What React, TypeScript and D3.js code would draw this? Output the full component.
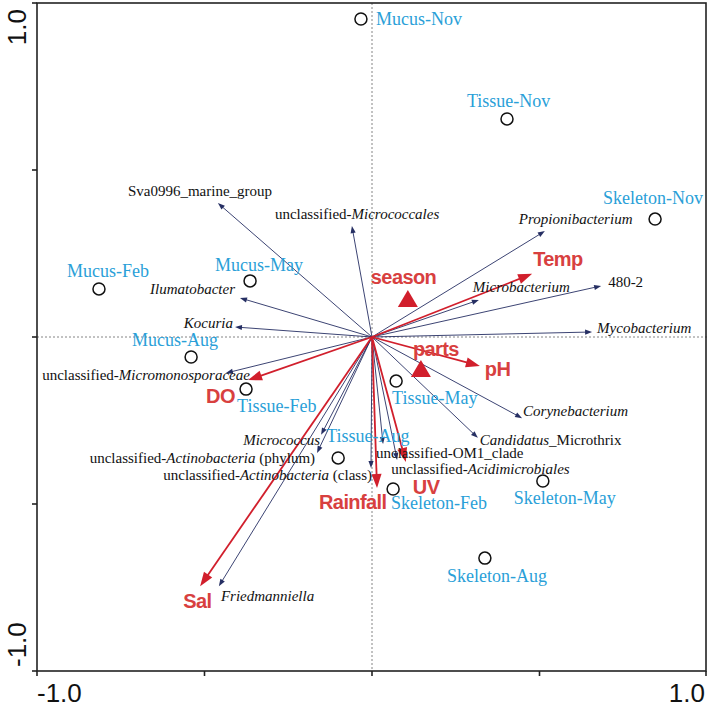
import React from "react";
import * as d3 from "d3";

// ---- data (CCA/RDA biplot scores) ----
const sampleNames = ["Mucus-Nov","Tissue-Nov","Skeleton-Nov","Mucus-Feb","Mucus-May","Mucus-Aug","Tissue-Feb","Tissue-May","Tissue-Aug","Skeleton-Feb","Skeleton-May","Skeleton-Aug"];
const sampleX = [-0.033, 0.403, 0.845, -0.815, -0.364, -0.540, -0.376, 0.072, -0.101, 0.063, 0.510, 0.337];
const sampleY = [0.952, 0.653, 0.353, 0.144, 0.168, -0.060, -0.156, -0.132, -0.362, -0.455, -0.431, -0.662];

const speciesNames = ["Sva0996_marine_group","unclassified-*Micrococcales*","*Ilumatobacter*","*Kocuria*","unclassified-*Micromonosporaceae*","*Propionibacterium*","*Microbacterium*","480-2","*Mycobacterium*","*Corynebacterium*","*Candidatus*_Microthrix","unclassified-OM1_clade","unclassified-*Acidimicrobiales*","*Micrococcus*","unclassified-*Actinobacteria* (phylum)","unclassified-*Actinobacteria* (class)","*Friedmanniella*"];
const speciesX = [-0.460, -0.060, -0.394, -0.409, -0.436, 0.516, 0.319, 0.684, 0.657, 0.448, 0.316, 0.033, 0.075, -0.152, -0.164, -0.003, -0.457];
const speciesY = [0.401, 0.332, 0.117, 0.030, -0.108, 0.317, 0.111, 0.153, 0.015, -0.243, -0.302, -0.320, -0.368, -0.293, -0.347, -0.392, -0.746];

const envNames = ["Temp","pH","DO","Sal","Rainfall","UV"];
const envX = [0.478, 0.322, -0.370, -0.513, 0.015, 0.101];
const envY = [0.189, -0.087, -0.129, -0.746, -0.452, -0.374];

const centroidNames = ["season","parts"];
const centroidX = [0.107, 0.146];
const centroidY = [0.114, -0.096];

const tickValues = [-1, -0.5, 0, 0.5, 1];
const axisLabels = ["-1.0", "1.0"];

// ---- layout (label offsets in px, relative to the mark) ----
type Off = [string, number, number];
const sampleLabelOff: Off[] = [
  ["start", 15, 6], ["start", -40, -12], ["start", -52, -15], ["start", -32, -12],
  ["start", -35, -10], ["start", -59, -11], ["start", -9, 23], ["start", -4, 23],
  ["start", -12, -16], ["start", -2, 20], ["start", -29, 23], ["start", -38, 24],
];
const speciesLabelOff: Off[] = [
  ["start", -90, -7], ["start", -77, -7], ["end", -5, -4], ["end", -2, 1], ["end", 24, 7],
  ["start", -26, -7], ["start", -6, -8], ["start", 7, 1], ["start", 5, 1], ["start", 1, -2],
  ["start", 2, 7], ["start", -7, 14], ["start", -6, 14], ["end", -1, 10], ["end", -2, 10],
  ["end", 1, 12], ["start", 2, 15],
];
const envLabelOff: Off[] = [
  ["start", 1, -8], ["start", 5, 10], ["start", -42, 23], ["start", -17, 22], ["start", -58, 21], ["start", 7, 32],
];
const centroidLabelOff: Off[] = [["start", -37, -15], ["start", -8, -13]];

const W = 709, H = 707;
const L = 37, R = 707, T = 3, B = 671;
const x = d3.scaleLinear().domain([-1, 1]).range([L, R]);
const y = d3.scaleLinear().domain([-1, 1]).range([B, T]);

const NAVY = "#262f63";
const RED = "#d11f2c";
const RED_TXT = "#d8403f";
const BLUE = "#2a9fd8";
const SERIF = "'Liberation Serif', 'Times New Roman', serif";
const SANS = "'Liberation Sans', Arial, sans-serif";

function parseRich(s: string) {
  return s.split("*").map((t, i) => ({ t, it: i % 2 === 1 })).filter((p) => p.t.length);
}

function Arrow({ x2, y2, color, width, headLen, headW }: any) {
  const x1 = x(0), y1 = y(0);
  const ang = Math.atan2(y2 - y1, x2 - x1);
  const bx = x2 - headLen * Math.cos(ang);
  const by = y2 - headLen * Math.sin(ang);
  const px = -Math.sin(ang) * headW, py = Math.cos(ang) * headW;
  const pts = `${x2},${y2} ${bx + px},${by + py} ${bx - px},${by - py}`;
  return (
    <g>
      <line x1={x1} y1={y1} x2={bx + 0.5 * headLen * Math.cos(ang)} y2={by + 0.5 * headLen * Math.sin(ang)} stroke={color} strokeWidth={width} />
      <polygon points={pts} fill={color} />
    </g>
  );
}

export default function App() {
  return (
    <svg width={W} height={H} style={{ position: "absolute", left: 0, top: 0, background: "#fff" }}>
      <rect x={0} y={0} width={W} height={H} fill="#fff" />
      {/* zero lines */}
      <line x1={x(0)} x2={x(0)} y1={T} y2={B} stroke="#666" strokeWidth={0.8} strokeDasharray="2,2" />
      <line x1={L} x2={R} y1={y(0)} y2={y(0)} stroke="#666" strokeWidth={0.8} strokeDasharray="2,2" />
      {/* frame */}
      <rect x={L} y={T} width={R - L - 1} height={B - T} fill="none" stroke="#222" strokeWidth={1.6} />
      {tickValues.map((v) => (
        <line key={"bx" + v} x1={Math.min(x(v), R - 1)} x2={Math.min(x(v), R - 1)} y1={B} y2={B + 5} stroke="#222" strokeWidth={1.6} />
      ))}
      {tickValues.map((v) => (
        <line key={"ly" + v} x1={L - 5} x2={L} y1={y(v)} y2={y(v)} stroke="#222" strokeWidth={1.6} />
      ))}
      <text x={x(-1)} y={702} fontFamily={SANS} fontSize={26} fill="#111" textAnchor="start">{axisLabels[0]}</text>
      <text x={x(1) - 2} y={702} fontFamily={SANS} fontSize={26} fill="#111" textAnchor="end">{axisLabels[1]}</text>
      <text transform={`translate(26,${y(1) + 6}) rotate(-90)`} fontFamily={SANS} fontSize={26} fill="#111" textAnchor="end">{axisLabels[1]}</text>
      <text transform={`translate(26,${y(-1) - 4}) rotate(-90)`} fontFamily={SANS} fontSize={26} fill="#111" textAnchor="start">{axisLabels[0]}</text>

      {/* species arrows */}
      {speciesNames.map((n, i) => (
        <Arrow key={n} x2={x(speciesX[i])} y2={y(speciesY[i])} color={NAVY} width={0.9} headLen={7} headW={2.6} />
      ))}
      {/* env arrows */}
      {envNames.map((n, i) => (
        <Arrow key={n} x2={x(envX[i])} y2={y(envY[i])} color={RED} width={1.8} headLen={14} headW={5} />
      ))}
      {/* samples */}
      {sampleNames.map((n, i) => (
        <circle key={n} cx={x(sampleX[i])} cy={y(sampleY[i])} r={6} fill="none" stroke="#111" strokeWidth={1.5} />
      ))}
      {/* centroids */}
      {centroidNames.map((n, i) => {
        const cx = x(centroidX[i]), cy = y(centroidY[i]);
        return <polygon key={n} points={`${cx},${cy - 9} ${cx + 10},${cy + 8} ${cx - 10},${cy + 8}`} fill={RED} />;
      })}

      {/* species labels */}
      {speciesNames.map((n, i) => {
        const [a, dx, dy] = speciesLabelOff[i];
        return (
          <text key={"sl" + i} x={x(speciesX[i]) + dx} y={y(speciesY[i]) + dy} textAnchor={a as any} fontFamily={SERIF} fontSize={15} fill="#111">
            {parseRich(n).map((p, j) => (
              <tspan key={j} fontStyle={p.it ? "italic" : "normal"}>{p.t}</tspan>
            ))}
          </text>
        );
      })}
      {/* sample labels */}
      {sampleNames.map((n, i) => {
        const [a, dx, dy] = sampleLabelOff[i];
        return (
          <text key={"pl" + i} x={x(sampleX[i]) + dx} y={y(sampleY[i]) + dy} textAnchor={a as any} fontFamily={SERIF} fontSize={18} fill={BLUE}>{n}</text>
        );
      })}
      {/* env labels */}
      {envNames.map((n, i) => {
        const [a, dx, dy] = envLabelOff[i];
        return (
          <text key={"el" + i} x={x(envX[i]) + dx} y={y(envY[i]) + dy} textAnchor={a as any} fontFamily={SANS} fontWeight="bold" fontSize={20} letterSpacing={-0.6} fill={RED_TXT}>{n}</text>
        );
      })}
      {centroidNames.map((n, i) => {
        const [a, dx, dy] = centroidLabelOff[i];
        return (
          <text key={"cl" + i} x={x(centroidX[i]) + dx} y={y(centroidY[i]) + dy} textAnchor={a as any} fontFamily={SANS} fontWeight="bold" fontSize={20} letterSpacing={-0.6} fill={RED_TXT}>{n}</text>
        );
      })}
    </svg>
  );
}
